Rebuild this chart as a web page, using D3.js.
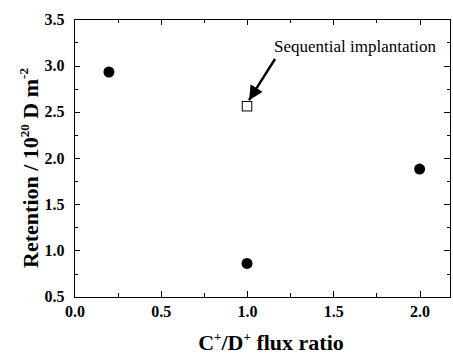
<!DOCTYPE html>
<html>
<head>
<meta charset="utf-8">
<script src="https://cdn.jsdelivr.net/npm/d3@7"></script>
<style>
  html, body { margin: 0; padding: 0; background: #fff; }
  svg { display: block; }
  .ax path, .ax line { stroke: #000; stroke-width: 1px; shape-rendering: crispEdges; }
</style>
</head>
<body>
<svg id="chart" width="453" height="361"></svg>
<script>
// ---- data ----
const filledX = [0.2, 1.0, 2.0];
const filledY = [2.93, 0.86, 1.88];
const openX = [1.0];
const openY = [2.56];
const xMajorTicks = [0.0, 0.5, 1.0, 1.5, 2.0];
const xMinorTicks = [0.25, 0.75, 1.25, 1.75];
const yMajorTicks = [0.5, 1.0, 1.5, 2.0, 2.5, 3.0, 3.5];
const yMinorTicks = [0.75, 1.25, 1.75, 2.25, 2.75, 3.25];
const annotationText = "Sequential implantation";

const SERIF = "Liberation Serif, Times New Roman, DejaVu Serif, serif";
const svg = d3.select("#chart");
const L = 74.4, R = 450, T = 19.3, B = 296.7;
const x = d3.scaleLinear().domain([0, 2.176]).range([L, R]);
const y = d3.scaleLinear().domain([0.5, 3.5]).range([B, T]);
const fmt = d3.format(".1f");

function styleAxis(g) {
  g.attr("font-family", SERIF).attr("font-size", 16).attr("font-weight", "bold");
  g.selectAll("text").attr("fill", "#000");
}

// bottom
svg.append("g").attr("class", "ax").attr("transform", `translate(0,${B})`)
  .call(d3.axisBottom(x).tickValues(xMajorTicks).tickSizeInner(-6).tickSizeOuter(0).tickPadding(8.5).tickFormat(fmt))
  .call(styleAxis);
svg.append("g").attr("class", "ax").attr("transform", `translate(0,${B})`)
  .call(d3.axisBottom(x).tickValues(xMinorTicks).tickSizeInner(-3.5).tickSizeOuter(0).tickFormat(""));
// top
svg.append("g").attr("class", "ax").attr("transform", `translate(0,${T})`)
  .call(d3.axisTop(x).tickValues(xMajorTicks).tickSizeInner(-6).tickSizeOuter(0).tickFormat(""));
svg.append("g").attr("class", "ax").attr("transform", `translate(0,${T})`)
  .call(d3.axisTop(x).tickValues(xMinorTicks).tickSizeInner(-3.5).tickSizeOuter(0).tickFormat(""));
// left
svg.append("g").attr("class", "ax").attr("transform", `translate(${L},0)`)
  .call(d3.axisLeft(y).tickValues(yMajorTicks).tickSizeInner(-6).tickSizeOuter(0).tickPadding(10).tickFormat(fmt))
  .call(styleAxis);
svg.append("g").attr("class", "ax").attr("transform", `translate(${L},0)`)
  .call(d3.axisLeft(y).tickValues(yMinorTicks).tickSizeInner(-3.5).tickSizeOuter(0).tickFormat(""));
// right
svg.append("g").attr("class", "ax").attr("transform", `translate(${R},0)`)
  .call(d3.axisRight(y).tickValues(yMajorTicks).tickSizeInner(-6).tickSizeOuter(0).tickFormat(""));
svg.append("g").attr("class", "ax").attr("transform", `translate(${R},0)`)
  .call(d3.axisRight(y).tickValues(yMinorTicks).tickSizeInner(-3.5).tickSizeOuter(0).tickFormat(""));

// data points
svg.append("g").selectAll("circle").data(filledX.map((v, i) => [v, filledY[i]])).join("circle")
  .attr("cx", d => x(d[0])).attr("cy", d => y(d[1])).attr("r", 5.5).attr("fill", "#000");
const sq = 9.5;
svg.append("g").selectAll("rect").data(openX.map((v, i) => [v, openY[i]])).join("rect")
  .attr("x", d => x(d[0]) - sq / 2).attr("y", d => y(d[1]) - sq / 2)
  .attr("width", sq).attr("height", sq).attr("fill", "#fff").attr("stroke", "#000").attr("stroke-width", 1);

// annotation arrow
svg.append("defs").append("marker").attr("id", "ah").attr("viewBox", "0 0 10 10")
  .attr("refX", 10).attr("refY", 5).attr("markerWidth", 6).attr("markerHeight", 6)
  .attr("orient", "auto").attr("markerUnits", "strokeWidth")
  .append("path").attr("d", "M0,0 L10,5 L0,10 z").attr("fill", "#000");
const tip = [x(openX[0]) + 2, y(openY[0]) - 6];
svg.append("line").attr("x1", 275).attr("y1", 59).attr("x2", tip[0]).attr("y2", tip[1])
  .attr("stroke", "#000").attr("stroke-width", 2.4).attr("marker-end", "url(#ah)");
svg.append("text").attr("x", 274).attr("y", 52)
  .attr("font-family", SERIF).attr("font-size", 17).attr("fill", "#000")
  .text(annotationText);

// axis titles
const xt = svg.append("text").attr("x", 271).attr("y", 350).attr("text-anchor", "middle")
  .attr("font-family", SERIF).attr("font-weight", "bold").attr("font-size", 22);
xt.append("tspan").text("C");
xt.append("tspan").attr("dy", -9).attr("font-size", 13).text("+");
xt.append("tspan").attr("dy", 9).text("/D");
xt.append("tspan").attr("dy", -9).attr("font-size", 13).text("+");
xt.append("tspan").attr("dy", 9).text(" flux ratio");

const yt = svg.append("text").attr("transform", "translate(38,168) rotate(-90)").attr("text-anchor", "middle")
  .attr("font-family", SERIF).attr("font-weight", "bold").attr("font-size", 22);
yt.append("tspan").text("Retention / 10");
yt.append("tspan").attr("dy", -9).attr("font-size", 13).text("20");
yt.append("tspan").attr("dy", 9).text(" D m");
yt.append("tspan").attr("dy", -10).attr("font-size", 13).text("-2");
</script>
</body>
</html>
